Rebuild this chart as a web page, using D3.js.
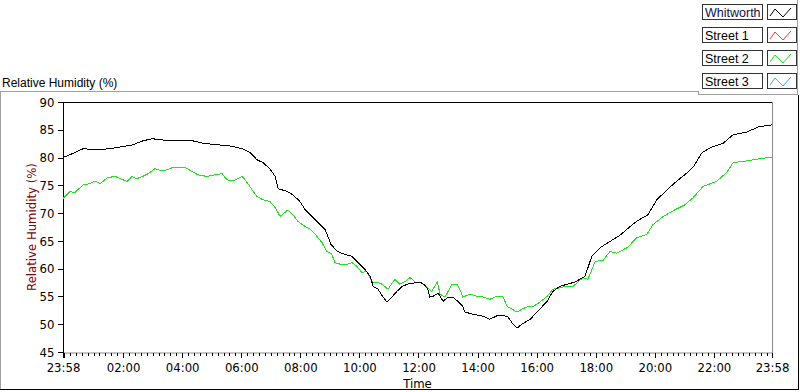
<!DOCTYPE html>
<html>
  <head>
    <title>Relative Humidity</title>
    <script src="https://d3js.org/d3.v7.min.js" charset="utf-8"></script>
    <style type="text/css">
      body { margin: 0; background: #fff; }
      svg text { font-family: "Liberation Sans", Arial, sans-serif; }
      .narrow { font-family: "Liberation Sans Narrow", "DejaVu Sans Condensed", "Liberation Sans", sans-serif; font-stretch: condensed; }
    </style>
  </head>
  <body>
    <script type="text/javascript">

      // Series: minutes after 23:58 and relative humidity (%)
      var whitworthMin = [0, 14, 41, 69, 95, 116, 142, 162, 181, 197, 223, 264, 284, 313, 339, 364, 380, 394, 406, 420,
        431, 437, 455, 467, 481, 492, 502, 518, 532, 538, 544, 557, 569, 587, 599, 613, 624, 630, 640, 650,
        658, 668, 678, 689, 699, 711, 725, 735, 741, 745, 751, 762, 772, 782, 792, 802, 812, 816, 833, 851,
        867, 881, 894, 904, 914, 922, 932, 949, 965, 983, 995, 1009, 1024, 1040, 1060, 1074, 1091, 1111, 1131, 1152,
        1168, 1188, 1206, 1227, 1247, 1263, 1280, 1298, 1318, 1341, 1361, 1389, 1412, 1440];
      var whitworthRH = [80.0, 80.5, 81.6, 81.4, 81.6, 81.9, 82.3, 83.0, 83.4, 83.2, 83.0, 83.0, 82.6, 82.3, 82.1, 81.6, 80.9, 79.6, 79.1, 78.0,
        76.6, 74.4, 73.9, 73.3, 72.1, 70.6, 69.7, 68.3, 67.1, 65.8, 64.4, 63.1, 62.7, 62.2, 61.1, 59.9, 58.6, 56.8, 56.3, 54.9,
        54.0, 54.9, 55.9, 56.8, 57.2, 57.4, 57.6, 57.0, 56.3, 54.9, 55.0, 55.6, 54.1, 54.9, 54.9, 54.1, 53.2, 52.2, 51.8, 51.5,
        50.9, 51.5, 51.6, 51.3, 50.0, 49.3, 50.0, 50.9, 52.4, 54.1, 55.9, 56.8, 57.2, 57.6, 58.6, 62.2, 63.8, 64.9, 66.0, 67.6,
        68.7, 69.7, 72.4, 74.2, 75.8, 76.9, 78.3, 80.9, 81.9, 82.6, 84.1, 84.6, 85.5, 85.9];

      var street2Min = [0, 4, 14, 24, 41, 55, 65, 75, 91, 106, 116, 130, 140, 150, 162, 173, 187, 201, 211, 223,
        248, 262, 274, 292, 309, 323, 333, 345, 364, 374, 384, 394, 406, 420, 431, 441, 457, 467, 477, 492,
        502, 512, 526, 536, 546, 552, 563, 577, 587, 597, 607, 617, 628, 638, 648, 660, 674, 684, 695, 705,
        715, 725, 739, 749, 760, 766, 776, 790, 800, 806, 812, 827, 841, 853, 867, 881, 894, 902, 912, 922,
        932, 942, 955, 969, 983, 995, 1016, 1036, 1056, 1066, 1081, 1097, 1111, 1125, 1146, 1166, 1186, 1198, 1219, 1243,
        1263, 1280, 1300, 1327, 1348, 1361, 1389, 1416, 1440];
      var street2RH = [72.6, 73.0, 73.9, 73.7, 75.1, 75.3, 75.8, 75.3, 76.4, 76.6, 76.2, 75.7, 76.6, 76.2, 76.6, 77.1, 78.0, 77.6, 77.8, 78.2,
        78.2, 77.5, 76.9, 76.6, 76.9, 77.1, 76.0, 75.8, 76.6, 75.5, 74.2, 73.0, 72.4, 72.1, 71.0, 69.4, 70.6, 69.7, 68.5, 67.6,
        67.1, 66.2, 64.7, 63.1, 62.6, 61.1, 60.8, 60.8, 61.1, 60.4, 59.3, 59.5, 57.6, 57.6, 57.2, 56.3, 58.1, 57.2, 57.7, 58.4,
        57.6, 57.6, 56.7, 55.9, 57.6, 55.4, 54.9, 57.2, 57.2, 56.3, 54.9, 55.4, 55.0, 54.9, 54.5, 55.0, 54.9, 53.2, 52.7, 52.2,
        52.7, 53.1, 53.2, 54.0, 55.0, 56.3, 56.7, 56.8, 58.4, 58.1, 61.3, 61.5, 63.1, 62.8, 63.8, 65.6, 66.2, 67.9, 69.4, 70.6,
        71.5, 72.8, 74.8, 75.7, 77.3, 79.1, 79.4, 79.8, 80.1];

      var legendNames = ["Whitworth", "Street 1", "Street 2", "Street 3"];
      var legendColors = ["#000000", "#ff3030", "#22e022", "#30b0f0"];
      var xTickLabels = ["23:58", "02:00", "04:00", "06:00", "08:00", "10:00", "12:00",
        "14:00", "16:00", "18:00", "20:00", "22:00", "23:58"];
      var yTicks = [45, 50, 55, 60, 65, 70, 75, 80, 85, 90];

      var width = 800;
      var height = 392;
      var plot = { left: 63, right: 772, top: 102, bottom: 352 };

      var svg = d3.select("body")
          .append("svg")
          .attr("width", width)
          .attr("height", height);

      var start = new Date(2000, 0, 1, 23, 58);
      var end = new Date(2000, 0, 2, 23, 58);
      function toDate(m) { return new Date(start.getTime() + m * 60000); }

      var x = d3.scaleTime().domain([start, end]).range([plot.left, plot.right]);
      var y = d3.scaleLinear().domain([45, 90]).range([plot.bottom, plot.top]);

      // Tick labels -> dates (first is start, last is end)
      var xTickDates = xTickLabels.map(function(s, i) {
        if (i === 0) return start;
        if (i === xTickLabels.length - 1) return end;
        var p = s.split(":");
        return new Date(2000, 0, 2, +p[0], +p[1]);
      });

      // Outer frame (sunken look)
      function seg(x1, y1, x2, y2, c) {
        svg.append("line").attr("x1", x1).attr("y1", y1).attr("x2", x2).attr("y2", y2)
            .attr("stroke", c).attr("stroke-width", 1).attr("shape-rendering", "crispEdges");
      }
      seg(0, 91.5, 699, 91.5, "#a0a0a0");
      seg(0.5, 91, 0.5, 390, "#a0a0a0");
      seg(698.5, 91, 698.5, 95, "#a0a0a0");
      seg(698, 94.5, 798, 94.5, "#a0a0a0");
      seg(797.5, 0, 797.5, 95, "#a0a0a0");
      seg(798.5, 95, 798.5, 390, "#000");
      seg(0, 389.5, 799, 389.5, "#000");

      // Title
      svg.append("text")
          .attr("x", 2)
          .attr("y", 87)
          .attr("font-size", "12px")
          .attr("fill", "#000")
          .text("Relative Humidity (%)");

      // Plot box: dark top/left, grey right/bottom
      seg(plot.left, plot.top + 0.5, plot.right, plot.top + 0.5, "#000");
      seg(plot.right + 0.5, plot.top, plot.right + 0.5, plot.bottom + 1, "#8c8c8c");

      // Minor ticks every 12 minutes
      var minorAxis = d3.axisBottom(x)
          .ticks(d3.timeMinute.every(12))
          .tickFormat("")
          .tickSize(3)
          .tickSizeOuter(0);
      var gMinor = svg.append("g")
          .attr("transform", "translate(0," + (plot.bottom + 0.5) + ")")
          .call(minorAxis);
      gMinor.select(".domain").attr("stroke", "#8c8c8c");
      gMinor.selectAll(".tick line").attr("stroke", "#000").attr("shape-rendering", "crispEdges");

      // Major ticks
      var xAxis = d3.axisBottom(x)
          .tickValues(xTickDates)
          .tickFormat(function(d, i) { return xTickLabels[i]; })
          .tickSize(5)
          .tickPadding(5)
          .tickSizeOuter(0);
      var gx = svg.append("g")
          .attr("transform", "translate(0," + (plot.bottom + 0.5) + ")")
          .call(xAxis);
      gx.select(".domain").remove();
      gx.selectAll(".tick line").attr("stroke", "#000").attr("shape-rendering", "crispEdges");
      gx.select(".tick line").attr("stroke-width", 2);
      gx.selectAll(".tick text")
          .attr("class", "narrow")
          .attr("font-size", "13px")
          .attr("fill", "#000");

      var yAxis = d3.axisLeft(y)
          .tickValues(yTicks)
          .tickSize(5)
          .tickPadding(3)
          .tickSizeOuter(0);
      var gy = svg.append("g")
          .attr("transform", "translate(" + (plot.left - 0.5) + ",0)")
          .call(yAxis);
      gy.select(".domain").attr("stroke", "#000").attr("shape-rendering", "crispEdges");
      gy.selectAll(".tick line").attr("stroke", "#000").attr("shape-rendering", "crispEdges");
      gy.selectAll(".tick text")
          .attr("class", "narrow")
          .attr("font-size", "13px")
          .attr("fill", "#000");

      // Axis names
      svg.append("text")
          .attr("class", "narrow")
          .attr("x", (plot.left + plot.right) / 2)
          .attr("y", 388)
          .attr("text-anchor", "middle")
          .attr("font-size", "13px")
          .attr("fill", "#000")
          .text("Time");

      svg.append("text")
          .attr("class", "narrow")
          .attr("transform", "translate(36," + ((plot.top + plot.bottom) / 2) + ") rotate(-90)")
          .attr("text-anchor", "middle")
          .attr("font-size", "13px")
          .attr("fill", "#800000")
          .text("Relative Humidity (%)");

      // Lines
      svg.append("clipPath").attr("id", "clip")
        .append("rect")
          .attr("x", plot.left).attr("y", plot.top)
          .attr("width", plot.right - plot.left).attr("height", plot.bottom - plot.top);

      var line = d3.line()
          .x(function(d) { return x(toDate(d[0])); })
          .y(function(d) { return y(d[1]); });

      var series = [
        { pts: d3.zip(street2Min, street2RH), color: legendColors[2] },
        { pts: d3.zip(whitworthMin, whitworthRH), color: legendColors[0] }
      ];

      svg.selectAll(".series")
          .data(series)
          .enter()
          .append("path")
          .attr("class", "series")
          .attr("clip-path", "url(#clip)")
          .attr("fill", "none")
          .attr("stroke", function(d) { return d.color; })
          .attr("stroke-width", 1)
          .attr("shape-rendering", "crispEdges")
          .attr("d", function(d) { return line(d.pts); });

      // Legend
      var leg = svg.selectAll(".leg")
          .data(legendNames)
          .enter()
          .append("g")
          .attr("class", "leg")
          .attr("transform", function(d, i) { return "translate(0," + (4 + i * 23) + ")"; });

      leg.append("rect")
          .attr("x", 702.5).attr("y", 0.5)
          .attr("width", 60).attr("height", 15)
          .attr("fill", "#fff").attr("stroke", "#333");
      leg.append("text")
          .attr("x", 705)
          .attr("y", 12.5)
          .attr("font-size", "12.5px")
          .attr("fill", function(d, i) { return i === 0 ? "#101050" : "#000"; })
          .text(function(d) { return d; });
      leg.append("rect")
          .attr("x", 767.5).attr("y", 0.5)
          .attr("width", 29).attr("height", 15)
          .attr("fill", "#fff").attr("stroke", "#333");
      leg.append("path")
          .attr("fill", "none")
          .attr("stroke", function(d, i) { return legendColors[i]; })
          .attr("d", "M770,12 L775,5 L783,13 L791,4");

    </script>
  </body>
</html>
